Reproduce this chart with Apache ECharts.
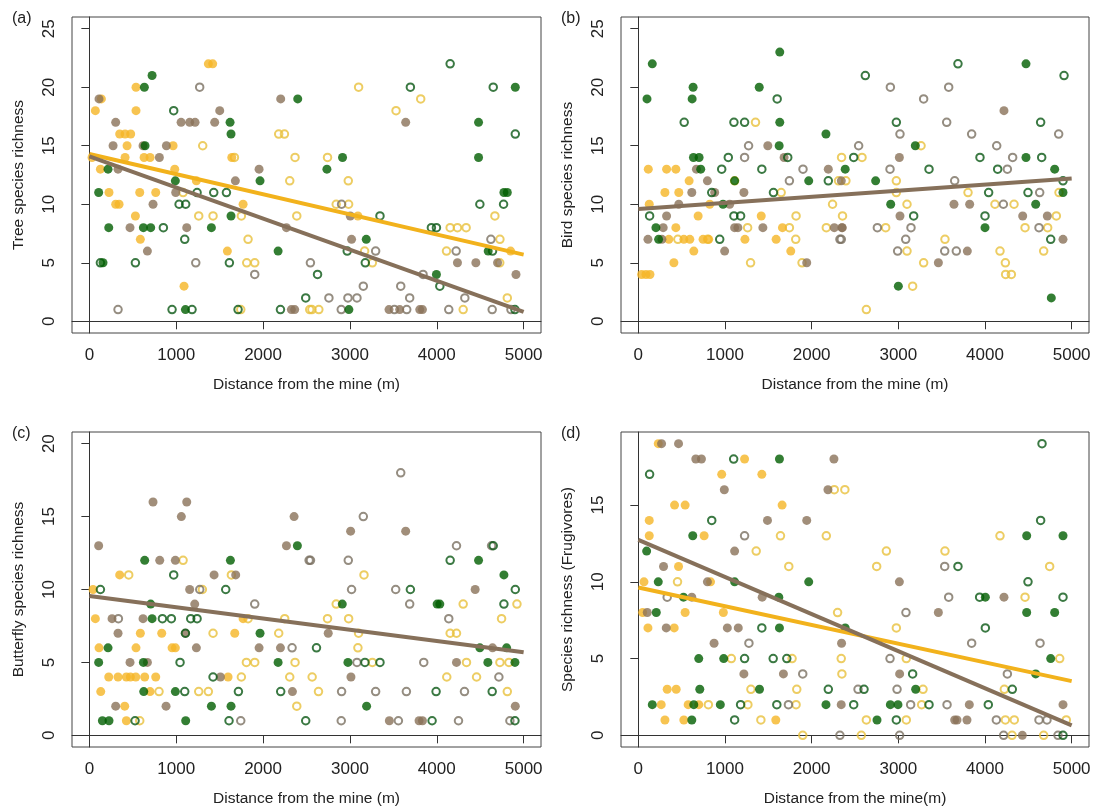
<!DOCTYPE html>
<html><head><meta charset="utf-8">
<script src="https://cdn.jsdelivr.net/npm/echarts@6/dist/echarts.min.js"></script>
<style>html,body{margin:0;padding:0;background:#fff}#c{width:1100px;height:810px}</style>
</head><body><div id="c"></div>
<script>
// ---------- tick labels ----------
const xTicks = [0, 1000, 2000, 3000, 4000, 5000];
const yTicksAB = [0, 5, 10, 15, 20, 25];
const yTicksC = [0, 5, 10, 15, 20];
const yTicksD = [0, 5, 10, 15];

// ---------- panel (a) Tree species richness ----------
const aYellowFilled = [[1370,22],[1420,22],[537,20],[138,19],[69,18],[537,18],[349,16],[411,16],[476,16],[434,15],[964,15],[31,14],[411,14],[630,14],[699,14],[1640,14],[127,13],[983,13],[1232,12],[226,11],[580,11],[764,11],[303,10],[342,10],[1770,10],[530,9],[587,7],[1589,6],[1090,3],[4850,6],[3092,9]];
const aYellowOpen = [[1670,14],[2368,14],[2307,12],[1079,11],[1259,9],[1424,9],[1750,9],[2388,9],[1827,7],[1812,5],[1904,5],[2537,1],[1305,15],[2180,16],[2246,16],[3100,20],[3815,19],[3531,18],[2742,14],[2981,12],[2842,10],[2985,10],[4669,9],[4154,8],[4238,8],[4338,8],[4727,7],[3169,6],[4112,6],[3258,5],[4725,5],[4812,2],[2562,1],[2642,1],[4304,1],[1743,1]];
const aBrownFilled = [[111,19],[2203,19],[1501,18],[303,17],[1056,17],[1155,17],[1217,17],[1443,17],[273,15],[618,15],[887,15],[806,14],[330,13],[1954,13],[1681,12],[994,11],[733,10],[468,8],[1121,8],[2269,8],[668,6],[2326,1],[2364,1],[3642,17],[3004,9],[3019,7],[4238,5],[4450,5],[4700,5],[4912,4],[3450,1],[3573,1],[3804,1],[3835,1]];
const aBrownOpen = [[1270,20],[1225,5],[2545,5],[1904,4],[330,1],[2904,10],[3296,6],[4223,6],[4623,7],[3842,4],[3154,3],[3585,3],[2758,2],[2977,2],[3081,2],[3688,2],[4323,2],[2900,1],[3512,1],[3654,1],[4138,1],[4638,1],[4854,1]];
const aGreenFilled = [[722,21],[633,20],[2399,19],[1620,17],[1631,16],[641,15],[215,13],[990,12],[1965,12],[107,11],[1631,9],[223,8],[622,8],[706,8],[1405,8],[2173,6],[157,5],[1106,1],[4904,20],[4481,17],[2915,14],[4481,14],[2735,13],[4773,11],[4812,11],[3188,7],[4592,6],[3996,4],[2988,1]];
const aGreenOpen = [[971,18],[1240,11],[1432,11],[1578,11],[1033,10],[1109,10],[852,8],[1098,7],[127,5],[530,5],[1612,5],[2491,2],[952,1],[1182,1],[1712,1],[2200,1],[4154,22],[3696,20],[4650,20],[4904,16],[4496,10],[4769,10],[3346,9],[3938,8],[3996,8],[2969,6],[4642,6],[3177,5],[2627,4],[4035,3],[4900,1]];
const aFitYellow = [[0,14.3],[5000,5.7]];
const aFitBrown = [[0,14.1],[5000,0.8]];

// ---------- panel (b) Bird species richness ----------
const bYellowFilled = [[115,13],[326,13],[433,13],[586,12],[307,11],[467,11],[126,10],[824,10],[690,9],[1418,9],[433,8],[1663,8],[352,7],[525,7],[594,7],[747,7],[812,7],[1230,7],[1590,7],[640,6],[1759,6],[410,5],[38,4],[88,4],[134,4]];
const bYellowOpen = [[1352,17],[2345,14],[1111,12],[2310,12],[2395,12],[1648,11],[2241,10],[1820,9],[2356,9],[1261,8],[1743,8],[2169,8],[456,7],[1816,7],[1295,5],[1889,5],[3262,15],[2581,14],[2977,12],[2977,11],[3804,11],[4854,11],[3100,10],[4115,10],[4335,10],[4823,9],[2854,8],[4462,8],[4723,8],[3538,7],[3100,6],[4173,6],[4677,6],[3292,5],[4235,5],[4238,4],[4304,4],[3165,3],[2631,1],[800,7]];
const bBrownFilled = [[1494,15],[1682,14],[670,13],[2192,13],[797,12],[617,11],[881,11],[1218,11],[467,10],[1054,10],[326,9],[287,8],[1111,8],[1149,8],[1437,8],[2261,8],[2352,8],[111,7],[272,7],[996,6],[1943,5],[4219,18],[3012,14],[2342,12],[3642,10],[3823,10],[3019,9],[4435,9],[4719,9],[2350,8],[4900,7],[3796,6],[3462,5]];
const bBrownOpen = [[1272,15],[1226,14],[1900,13],[1743,12],[2326,7],[2908,20],[3581,20],[3292,19],[3558,17],[3019,16],[3846,16],[4850,16],[2542,15],[4135,15],[4319,14],[2904,13],[4258,13],[3650,12],[4631,11],[4212,10],[2758,8],[3146,8],[4623,8],[2342,7],[3085,7],[2992,6],[3535,6],[3669,6]];
const bGreenFilled = [[1632,23],[161,22],[632,20],[1395,20],[100,19],[621,19],[1632,17],[2165,16],[1625,15],[636,14],[701,14],[720,13],[2387,13],[1111,12],[1966,12],[977,10],[203,8],[234,7],[4473,22],[3196,15],[4473,14],[4804,13],[2738,12],[4900,11],[2912,10],[4585,10],[4000,8],[3000,3],[4765,2]];
const bGreenOpen = [[1602,19],[529,17],[1103,17],[1226,17],[1038,14],[1724,14],[962,13],[1425,13],[2192,12],[847,11],[1559,11],[130,9],[1103,9],[1180,9],[939,7],[3688,22],[2619,21],[4912,21],[2977,17],[4642,17],[2485,14],[3942,14],[4654,14],[3354,13],[4146,13],[4900,12],[4042,11],[4496,11],[3177,9],[4000,9],[4758,7]];
const bFitBrown = [[0,9.6],[5000,12.2]];

// ---------- panel (c) Butterfly species richness ----------
const cYellowFilled = [[349,11],[42,10],[69,8],[1770,8],[587,7],[833,7],[1674,7],[111,6],[537,6],[952,6],[990,6],[223,4],[330,4],[426,4],[472,4],[534,4],[637,4],[764,4],[1597,4],[131,3],[699,3],[407,2],[426,1]];
const cYellowOpen = [[1079,12],[453,11],[1635,11],[1301,10],[1827,8],[2249,8],[1424,7],[2180,7],[1808,5],[1904,5],[2368,5],[1750,4],[2307,4],[802,3],[1259,3],[1370,3],[2388,2],[580,1],[3162,11],[2842,9],[4304,9],[4923,9],[2742,8],[2985,8],[4746,8],[3100,7],[4154,7],[4227,7],[3092,6],[3258,5],[4342,5],[4727,5],[4831,5],[2565,4],[4115,4],[4458,4],[2638,3],[4812,3]];
const cBrownFilled = [[733,16],[1121,16],[1059,15],[2357,15],[107,13],[2269,13],[810,12],[990,12],[1436,11],[1685,11],[1155,10],[1213,9],[261,8],[618,8],[330,7],[1954,6],[2200,6],[468,5],[668,5],[1509,4],[2338,3],[303,2],[883,2],[3008,14],[3642,14],[4442,10],[2750,7],[4642,6],[4227,5],[3012,4],[4904,2],[3454,1],[3796,1],[3835,1],[1232,6],[1106,7]];
const cBrownOpen = [[2530,12],[1271,10],[1904,9],[334,8],[2334,6],[1743,1],[3585,18],[3154,15],[4227,13],[4631,13],[2546,12],[2981,12],[3019,10],[3527,10],[3688,9],[4138,8],[3081,5],[3850,5],[4715,4],[2904,3],[3296,3],[3650,3],[4319,3],[2900,1],[3558,1],[4250,1],[4842,1]];
const cGreenFilled = [[637,12],[1624,12],[2395,13],[706,9],[722,8],[1965,7],[215,6],[107,5],[622,5],[2173,5],[626,3],[990,3],[1405,2],[1631,2],[150,1],[226,1],[1109,1],[4481,12],[4773,11],[2912,9],[4004,9],[4035,9],[4496,6],[4804,6],[2977,5],[4588,5],[4900,5],[3192,2]];
const cGreenOpen = [[971,11],[127,10],[1570,10],[841,8],[944,8],[1167,8],[1240,8],[1106,7],[1044,5],[1424,4],[1098,3],[1716,3],[2203,3],[526,1],[1608,1],[2491,1],[4650,13],[4154,12],[3696,10],[4904,10],[4773,9],[2615,6],[3173,5],[3346,5],[3992,3],[4638,3],[3946,1],[4900,1]];
const cFitBrown = [[0,9.55],[5000,5.7]];

// ---------- panel (d) Species richness (Frugivores) ----------
const dYellowFilled = [[230,19],[1226,18],[962,17],[1425,17],[418,15],[540,15],[1659,15],[126,14],[126,13],[759,13],[464,11],[65,10],[833,10],[50,8],[540,8],[981,8],[111,7],[414,7],[333,3],[437,3],[264,2],[575,2],[697,2],[307,1],[525,1],[1586,1]];
const dYellowOpen = [[2261,16],[2383,16],[1640,13],[2169,13],[1360,12],[1736,11],[452,10],[2299,8],[1073,5],[1774,5],[2341,5],[2349,4],[1299,3],[1828,3],[808,2],[1264,2],[1820,2],[1414,1],[1897,0],[4173,13],[2862,12],[3538,12],[2750,11],[4746,11],[4462,9],[2977,7],[3092,5],[4862,5],[3285,3],[4223,3],[3269,2],[2631,1],[3092,1],[4235,1],[4338,1],[4938,1],[2573,0],[4312,0],[4677,0]];
const dBrownFilled = [[268,19],[464,19],[663,18],[728,18],[2257,18],[992,16],[2188,16],[1490,14],[1943,14],[1111,12],[291,11],[797,10],[617,9],[1429,9],[103,8],[322,7],[1027,7],[1153,7],[874,6],[2345,6],[1218,4],[1674,4],[2341,2],[3012,10],[4219,9],[3462,8],[3015,4],[3819,2],[4900,2],[3650,1],[3677,1],[3792,1],[4431,0]];
const dBrownOpen = [[1226,13],[333,9],[1276,6],[1897,4],[1732,2],[2326,0],[3535,11],[3581,9],[3088,8],[3846,6],[4635,6],[2904,5],[4258,4],[2535,3],[2985,3],[3142,2],[3562,2],[4131,1],[4623,1],[4715,1],[3015,0],[4215,0],[4842,0]];
const dGreenFilled = [[1628,18],[628,13],[96,12],[230,10],[1111,10],[1966,10],[521,9],[1621,9],[207,8],[1628,7],[2387,7],[697,5],[985,5],[709,3],[1398,3],[161,2],[640,2],[946,2],[2165,2],[617,1],[4481,13],[4900,13],[4004,9],[4481,8],[4804,8],[4758,5],[4585,4],[3200,3],[2908,2],[2996,2],[2754,1]];
const dGreenOpen = [[130,17],[847,14],[1100,18],[1425,7],[1226,5],[1556,5],[1713,5],[2192,3],[1180,2],[1598,2],[1111,1],[4658,19],[4642,14],[3688,11],[4496,10],[3938,9],[4900,9],[4004,7],[3165,4],[2604,3],[4315,3],[2485,2],[3354,2],[4038,2],[2977,1],[4900,0]];
const dFitYellow = [[0,9.63],[5000,3.53]];
const dFitBrown = [[0,12.73],[5000,0.65]];

// ---------- styling ----------
const FONT = 'Liberation Sans, Arial, sans-serif';
const COL = {
  yellowF: '#F5B526', yellowO: '#E8C13C',
  brownF: '#8A7259', brownO: '#7A7062',
  greenF: '#005E00', greenO: '#0A5814',
  lineY: '#F2B21C', lineB: '#86705A'
};

const panels = [
  { label: '(a)', grid: {left: 72, top: 17, width: 469, height: 316}, ymin: -1, ymax: 26, yt: yTicksAB,
    yname: 'Tree species richness', xname: 'Distance from the mine (m)',
    pts: [aYellowOpen, aYellowFilled, aBrownOpen, aBrownFilled, aGreenOpen, aGreenFilled],
    fits: [[aFitYellow, 'lineY'], [aFitBrown, 'lineB']] },
  { label: '(b)', grid: {left: 621, top: 17, width: 468, height: 316}, ymin: -1, ymax: 26, yt: yTicksAB,
    yname: 'Bird species richness', xname: 'Distance from the mine (m)',
    pts: [bYellowOpen, bYellowFilled, bBrownOpen, bBrownFilled, bGreenOpen, bGreenFilled],
    fits: [[bFitBrown, 'lineB']] },
  { label: '(c)', grid: {left: 72, top: 432, width: 469, height: 315}, ymin: -0.8, ymax: 20.8, yt: yTicksC,
    yname: 'Butterfly species richness', xname: 'Distance from the mine (m)',
    pts: [cYellowOpen, cYellowFilled, cBrownOpen, cBrownFilled, cGreenOpen, cGreenFilled],
    fits: [[cFitBrown, 'lineB']] },
  { label: '(d)', grid: {left: 621, top: 432, width: 468, height: 315}, ymin: -0.76, ymax: 19.76, yt: yTicksD,
    yname: 'Species richness (Frugivores)', xname: 'Distance from the mine(m)',
    pts: [dYellowOpen, dYellowFilled, dBrownOpen, dBrownFilled, dGreenOpen, dGreenFilled],
    fits: [[dFitYellow, 'lineY'], [dFitBrown, 'lineB']] }
];
const ptKeys = ['yellowO', 'yellowF', 'brownO', 'brownF', 'greenO', 'greenF'];

const grids = [], xAxes = [], yAxes = [], series = [], graphics = [];
panels.forEach((p, i) => {
  grids.push(Object.assign({show: true, borderColor: '#444', borderWidth: 1, backgroundColor: 'transparent'}, p.grid));
  xAxes.push({
    type: 'value', gridIndex: i, min: -200, max: 5200,
    splitLine: {show: false},
    axisLine: {show: true, lineStyle: {color: '#333', width: 1}},
    axisTick: {show: true, customValues: xTicks, length: 8, lineStyle: {color: '#333'}},
    axisLabel: {customValues: xTicks, formatter: v => String(v), margin: 14, fontSize: 17, color: '#222', fontFamily: FONT},
    name: p.xname, nameLocation: 'middle', nameGap: 44,
    nameTextStyle: {fontSize: 15.5, color: '#222', fontFamily: FONT}
  });
  yAxes.push({
    type: 'value', gridIndex: i, min: p.ymin, max: p.ymax,
    splitLine: {show: false},
    axisLine: {show: true, lineStyle: {color: '#333', width: 1}},
    axisTick: {show: true, customValues: p.yt, length: 8, lineStyle: {color: '#333'}},
    axisLabel: {customValues: p.yt, formatter: v => String(v), rotate: 90, margin: 14, fontSize: 17, color: '#222', fontFamily: FONT},
    name: p.yname, nameLocation: 'middle', nameGap: 45,
    nameTextStyle: {fontSize: 15.5, color: '#222', fontFamily: FONT}
  });
  p.pts.forEach((arr, k) => {
    const key = ptKeys[k];
    const open = key.endsWith('O');
    series.push({
      type: 'scatter', xAxisIndex: i, yAxisIndex: i, data: arr,
      symbol: 'circle', symbolSize: open ? 7.5 : 9, silent: true,
      itemStyle: open ? {color: 'rgba(255,255,255,0)', borderColor: COL[key], borderWidth: 2}
                      : {color: COL[key], borderWidth: 0},
      z: 2
    });
  });
  p.fits.forEach(([arr, key]) => {
    series.push({
      type: 'line', xAxisIndex: i, yAxisIndex: i, data: arr, symbol: 'none', silent: true,
      lineStyle: {color: COL[key], width: 4}, z: 3
    });
  });
  graphics.push({
    type: 'text', left: p.grid.left - 60, top: p.grid.top - 6,
    style: {text: p.label, fontSize: 16, fill: '#222', fontFamily: FONT}
  });
});

const chart = echarts.init(document.getElementById('c'), null, {renderer: 'canvas'});
chart.setOption({
  animation: false,
  backgroundColor: '#fff',
  grid: grids, xAxis: xAxes, yAxis: yAxes, series: series,
  graphic: graphics
});
</script>
</body></html>
